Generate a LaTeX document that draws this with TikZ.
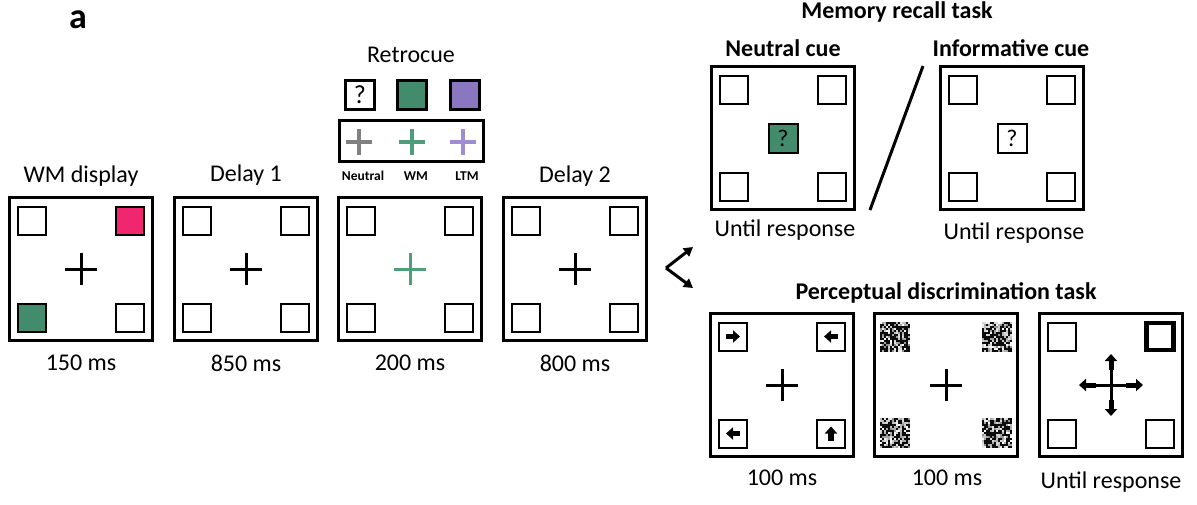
\documentclass[tikz,border=0pt]{standalone}
\usepackage{fontspec}
\setmainfont{Carlito}
\usetikzlibrary{arrows.meta}
\definecolor{wmgreen}{RGB}{66,139,108}
\definecolor{wmpink}{RGB}{240,38,110}
\definecolor{ltmpurple}{RGB}{139,119,192}
\definecolor{crossgray}{RGB}{128,128,128}
\definecolor{crossgreen}{RGB}{78,158,124}
\definecolor{crosspurple}{RGB}{160,140,210}
\newcommand\noisepatch[2]{%
  \foreach \i in {0,...,14}{\foreach \j in {0,...,14}{%
    \pgfmathsetmacro\g{rnd<0.5 ? 95 : int(45*rnd)}%
    \fill[black!\g] ({#1-15+2*\i},{#2-15+2*\j}) rectangle ++(2,2);
  }}}
\tikzset{
  frame/.style={draw, line width=3pt, minimum size=143pt, inner sep=0pt},
  sq/.style={draw, line width=2pt, minimum size=28pt, inner sep=0pt, fill=white},
  sqtl/.style={sq}, sqtr/.style={sq}, sqbl/.style={sq}, sqbr/.style={sq},
  lbl/.style={font=\fontsize{24}{28}\selectfont, inner sep=0pt},
  blbl/.style={font=\fontsize{24}{28}\selectfont\bfseries, inner sep=0pt},
  smalllbl/.style={font=\fontsize{13.5}{15}\selectfont\bfseries, inner sep=0pt},
  crossline/.style={line width=3pt},
  blk/.style={line width=5.5pt, -{Triangle[length=7pt,width=12pt]}},
  blk2/.style={line width=5pt, -{Triangle[length=7pt,width=12pt]}},
  branch/.style={line width=3pt, -{Triangle[length=9pt,width=10pt]}},
  pics/display/.style={code={
    \node[frame] (-f) at (0,0) {};
    \node[sqtl] (-tl) at (-49,-48.5) {};
    \node[sqtr] (-tr) at (49,-48.5) {};
    \node[sqbl] (-bl) at (-49,48.5) {};
    \node[sqbr] (-br) at (49,48.5) {};
  }},
  pics/fix/.style={code={
    \draw[crossline,#1] (-16,0) -- (16,0) (0,-16) -- (0,16);
  }},
  pics/fix/.default=black,
}
\begin{document}
\begin{tikzpicture}[x=1pt,y=-1pt]
\useasboundingbox (0,0) rectangle (1197,504);
\fill[white] (0,0) rectangle (1197,504);
\pgfmathsetseed{7}
% panel label
\node[font=\fontsize{36}{40}\selectfont\bfseries, inner sep=0pt] (lab) at (78,20) {a};

% ---- main sequence ----
\node[lbl] (t1) at (81,176) {WM display};
\node[lbl] (t2) at (246,175) {Delay 1};
\node[lbl] (t4) at (575,176) {Delay 2};
\pic[sqtr/.append style={fill=wmpink}, sqbl/.append style={fill=wmgreen}] (f1) at (81,269) {display};
\pic (f2) at (246,269) {display};
\pic (f3) at (410,269) {display};
\pic (f4) at (575,269) {display};
\pic at (81,269) {fix};
\pic at (246,269) {fix};
\pic at (410,269) {fix=crossgreen};
\pic at (575,269) {fix};
\node[lbl] (d1) at (81,363) {150 ms};
\node[lbl] (d2) at (246,363) {850 ms};
\node[lbl] (d3) at (410,363) {200 ms};
\node[lbl] (d4) at (575,363) {800 ms};

% ---- retrocue legend ----
\node[lbl] (rc) at (411,55) {Retrocue};
\node[draw, line width=2.5pt, minimum size=29pt, inner sep=0pt, font=\fontsize{26}{28}\selectfont] (cq) at (360,95) {?};
\node[draw, line width=2.5pt, minimum size=29pt, inner sep=0pt, fill=wmgreen] (cg) at (412,95) {};
\node[draw, line width=2.5pt, minimum size=29pt, inner sep=0pt, fill=ltmpurple] (cp) at (465,95) {};
\node[draw, line width=3pt, minimum width=144pt, minimum height=41pt, inner sep=0pt] (cbox) at (411.5,141) {};
\draw[line width=3.5pt, crossgray] (346,142) -- (372,142) (359,129) -- (359,155);
\draw[line width=3.5pt, crossgreen] (399,142) -- (425,142) (412,129) -- (412,155);
\draw[line width=3.5pt, crosspurple] (450,142) -- (476,142) (463,129) -- (463,155);
\node[smalllbl] (ln) at (363,176) {Neutral};
\node[smalllbl] (lw) at (416,176) {WM};
\node[smalllbl] (ll) at (467,176) {LTM};

% ---- branching arrow ----
\coordinate (bv) at (666,268);
\coordinate (bu) at (693,247);
\coordinate (bd) at (693,288);
\draw[branch] (bv) -- (bu);
\draw[branch] (bv) -- (bd);

% ---- memory recall task ----
\node[blbl] (mt) at (897,12) {Memory recall task};
\node[blbl] (mn) at (783,48) {Neutral cue};
\node[blbl] (mi) at (1011,48) {Informative cue};
\pic (m1) at (783,138) {display};
\pic (m2) at (1012,138) {display};
\node[sq, minimum size=29pt, fill=wmgreen, font=\fontsize{24}{26}\selectfont] (mq1) at (783,138) {?};
\node[sq, minimum size=29pt, font=\fontsize{24}{26}\selectfont] (mq2) at (1012,138) {?};
\coordinate (s1) at (870,210);
\coordinate (s2) at (923,66);
\draw[line width=3pt] (s1) -- (s2);
\node[lbl] (mu1) at (785,230) {Until response};
\node[lbl] (mu2) at (1014,233) {Until response};

% ---- perceptual discrimination task ----
\node[blbl] (pt) at (946,293) {Perceptual discrimination task};
\pic (p1) at (782,385) {display};
\node[frame] (p2-f) at (946,385) {};
\pic[sqtr/.append style={line width=4.5pt, minimum size=27pt}] (p3) at (1111,385) {display};
\pic at (782,385) {fix};
\pic at (946,385) {fix};
\noisepatch{895}{337}
\noisepatch{997}{337}
\noisepatch{895}{433}
\noisepatch{997}{433}
\draw[blk] ([xshift=-7pt]p1-tl.center) -- ([xshift=7pt]p1-tl.center);
\draw[blk] ([xshift=7pt]p1-tr.center) -- ([xshift=-7pt]p1-tr.center);
\draw[blk] ([xshift=7pt]p1-bl.center) -- ([xshift=-7pt]p1-bl.center);
\draw[blk] ([yshift=-7pt]p1-br.center) -- ([yshift=7pt]p1-br.center);
\draw[line width=3pt] ([xshift=-16pt]p3-f.center) -- ([xshift=16pt]p3-f.center)
  ([yshift=-16pt]p3-f.center) -- ([yshift=16pt]p3-f.center);
\draw[blk2] ([xshift=15pt]p3-f.center) -- ([xshift=32pt]p3-f.center);
\draw[blk2] ([xshift=-15pt]p3-f.center) -- ([xshift=-32pt]p3-f.center);
\draw[blk2] ([yshift=15pt]p3-f.center) -- ([yshift=31pt]p3-f.center);
\draw[blk2] ([yshift=-15pt]p3-f.center) -- ([yshift=-31pt]p3-f.center);
\node[lbl] (pd1) at (782,478) {100 ms};
\node[lbl] (pd2) at (947,478) {100 ms};
\node[lbl] (pd3) at (1111,482) {Until response};
\end{tikzpicture}
\end{document}
